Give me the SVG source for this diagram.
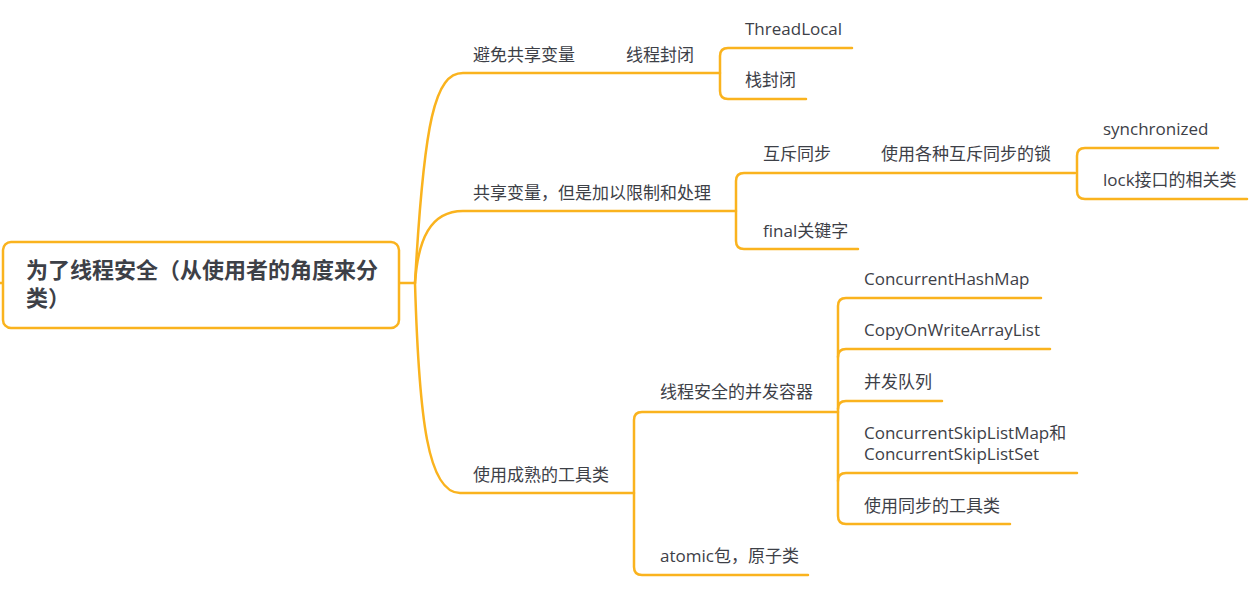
<svg xmlns="http://www.w3.org/2000/svg" width="1259" height="592" viewBox="0 0 1259 592">
<style>
.c{fill:none;stroke:#FAB31E;stroke-width:2.5;stroke-linecap:round;stroke-linejoin:round}
.t{font-family:"Open Sans","Noto Sans CJK SC",sans-serif;font-size:17px;fill:#3d4047}
.r{font-family:"Open Sans","Noto Sans CJK SC",sans-serif;font-size:22px;font-weight:bold;fill:#3d4047}
</style>
<rect width="1259" height="592" fill="#fff"/>
<g id="connectors">
<path class="c" d="M0,283 H3"/>
<path class="c" d="M400,283 H415"/>
<path class="c" d="M415,283 C424,120 435,73 463,73 H720"/>
<path class="c" d="M415,283 C418,240 430,211 463,211 H736"/>
<path class="c" d="M415,283 C419,420 428,493 460,493 H634"/>
<path class="c" d="M852,48 H728 Q720,48 720,56 V91 Q720,99 728,99 H806"/>
<path class="c" d="M1075,173 H744 Q736,173 736,181 V241 Q736,249 744,249 H858"/>
<path class="c" d="M1218,148 H1085 Q1077,148 1077,156 V191 Q1077,199 1085,199 H1247"/>
<path class="c" d="M838,412 H642 Q634,412 634,420 V567 Q634,575 642,575 H808"/>
<path class="c" d="M1041,298 H846 Q838,298 838,306 V516 Q838,524 846,524 H1010"/>
<path class="c" d="M838,357 Q838,349 846,349 H1050"/>
<path class="c" d="M838,409 Q838,401 846,401 H942"/>
<path class="c" d="M838,481 Q838,473 846,473 H1077"/>
</g>
<g id="root">
<rect x="3" y="242" width="396" height="86" rx="8" fill="#fff" stroke="#FAB31E" stroke-width="2.5"/>
<text class="r" x="26" y="278">为了线程安全（从使用者的角度来分</text>
<text class="r" x="26" y="306">类）</text>
</g>
<g id="n1"><text class="t" x="473" y="61">避免共享变量</text></g>
<g id="n1a"><text class="t" x="626" y="61">线程封闭</text></g>
<g id="n1a1"><text class="t" x="745" y="35">ThreadLocal</text></g>
<g id="n1a2"><text class="t" x="745" y="86">栈封闭</text></g>
<g id="n2"><text class="t" x="473" y="199">共享变量，但是加以限制和处理</text></g>
<g id="n2a"><text class="t" x="763" y="160">互斥同步</text></g>
<g id="n2a1"><text class="t" x="881" y="160">使用各种互斥同步的锁</text></g>
<g id="n2a1a"><text class="t" x="1103" y="135">synchronized</text></g>
<g id="n2a1b"><text class="t" x="1103" y="186">lock接口的相关类</text></g>
<g id="n2b"><text class="t" x="763" y="237">final关键字</text></g>
<g id="n3"><text class="t" x="473" y="481">使用成熟的工具类</text></g>
<g id="n3a"><text class="t" x="660" y="398">线程安全的并发容器</text></g>
<g id="n3a1"><text class="t" x="864" y="285">ConcurrentHashMap</text></g>
<g id="n3a2"><text class="t" x="864" y="336">CopyOnWriteArrayList</text></g>
<g id="n3a3"><text class="t" x="864" y="388">并发队列</text></g>
<g id="n3a4"><text class="t" x="864" y="439">ConcurrentSkipListMap和</text><text class="t" x="864" y="460">ConcurrentSkipListSet</text></g>
<g id="n3a5"><text class="t" x="864" y="512">使用同步的工具类</text></g>
<g id="n3b"><text class="t" x="660" y="562">atomic包，原子类</text></g>
</svg>
